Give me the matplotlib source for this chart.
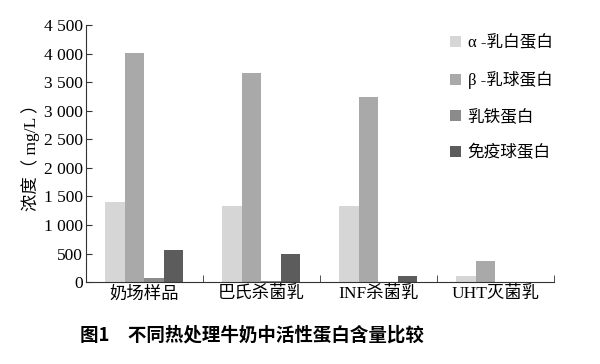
import numpy as np
import matplotlib
matplotlib.use('Agg')
import matplotlib.pyplot as plt

plt.rcParams['font.family'] = ['Liberation Serif', 'Noto Sans CJK SC']

# data (mg/L)
categories = ['奶场样品', '巴氏杀菌乳', 'INF杀菌乳', 'UHT灭菌乳']
series_names = ['α -乳白蛋白', 'β -乳球蛋白', '乳铁蛋白', '免疫球蛋白']
alpha_la = [1400, 1330, 1335, 110]
beta_lg = [4020, 3670, 3250, 370]
lactoferrin = [80, 25, 10, 0]
immunoglobulin = [570, 485, 115, 0]
colors = ['#d6d6d6', '#a9a9a9', '#8b8b8b', '#5c5c5c']

fig = plt.figure(figsize=(6, 3.64), dpi=100)
ax = fig.add_axes([0.143, 0.225, 0.78, 0.706])

x = np.arange(len(categories))
w = 0.167
all_series = [alpha_la, beta_lg, lactoferrin, immunoglobulin]
for i, vals in enumerate(all_series):
    ax.bar(x + (i - 1.5) * w, vals, w, color=colors[i], label=series_names[i])

ax.set_xlim(-0.5, 3.5)
ax.set_ylim(0, 4500)
ax.set_yticks(np.arange(0, 4501, 500))
ax.set_yticklabels(['0', '500', '1 000', '1 500', '2 000', '2 500',
                    '3 000', '3 500', '4 000', '4 500'], fontsize=12.5)
ax.set_xticks(x)
ax.set_xticklabels(categories, fontsize=12.5)
ax.set_xticks([0.5, 1.5, 2.5, 3.5], minor=True)
ax.tick_params(axis='x', which='major', length=0, pad=3)
ax.tick_params(axis='x', which='minor', direction='in', length=5, color='#333333')
ax.tick_params(axis='y', direction='in', length=4, pad=2, color='#333333')

for s in ['top', 'right']:
    ax.spines[s].set_visible(False)
for s in ['left', 'bottom']:
    ax.spines[s].set_color('#333333')

ax.set_ylabel('浓度（ mg/L ）', fontsize=12.5, labelpad=3)

fig.legend(loc='upper left', bbox_to_anchor=(0.725, 0.945), frameon=False,
           fontsize=12, handlelength=0.65, handleheight=0.65,
           handletextpad=0.4, labelspacing=1.2)

fig.text(0.42, 0.08, '图1　不同热处理牛奶中活性蛋白含量比较', ha='center',
         va='center', fontsize=13.3, fontweight='bold',
         family=['Noto Sans CJK SC', 'DejaVu Sans'])

fig.savefig('out.png', dpi=100)
